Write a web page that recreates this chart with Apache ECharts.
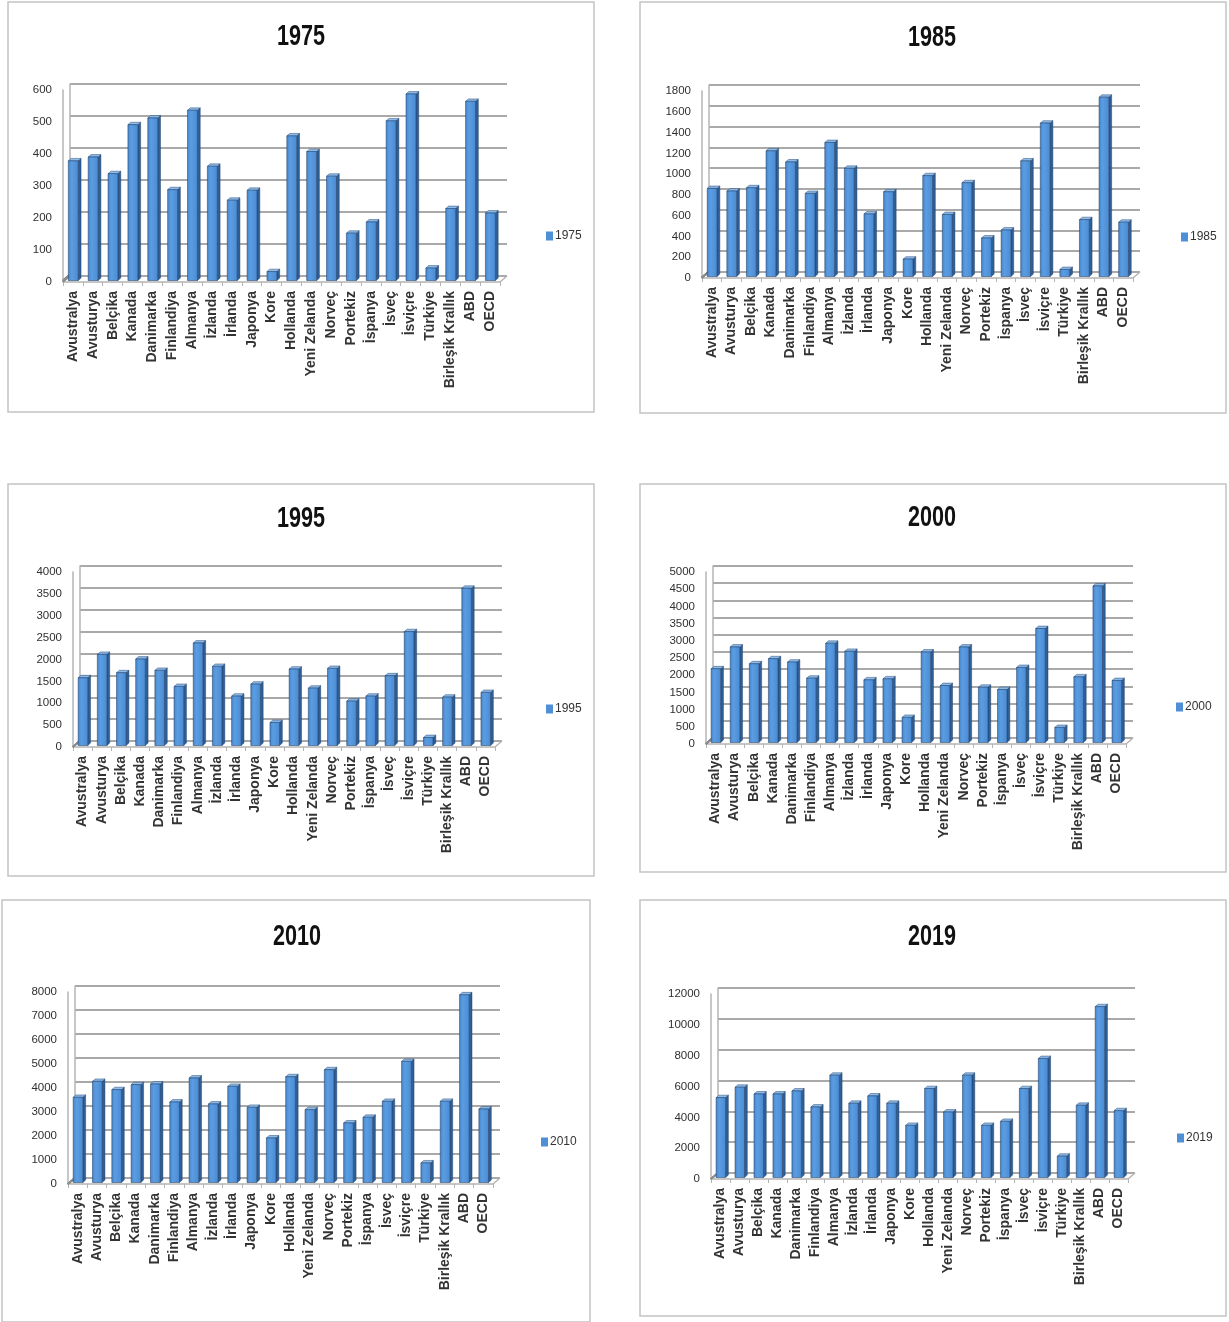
<!DOCTYPE html>
<html>
<head>
<meta charset="utf-8">
<script src="https://cdn.jsdelivr.net/npm/echarts@6/dist/echarts.min.js"></script>
<style>
  html, body { margin: 0; padding: 0; background: #ffffff; }
  #chart { width: 1229px; height: 1322px; }
</style>
</head>
<body>
<div id="chart"></div>
<script>
// Countries on the category axis (same for every year)
const categories = ['Avustralya', 'Avusturya', 'Belçika', 'Kanada', 'Danimarka', 'Finlandiya', 'Almanya',
  'İzlanda', 'İrlanda', 'Japonya', 'Kore', 'Hollanda', 'Yeni Zelanda', 'Norveç', 'Portekiz', 'İspanya',
  'İsveç', 'İsviçre', 'Türkiye', 'Birleşik Krallık', 'ABD', 'OECD'];

// Years shown, one chart each
const years = ['1975', '1985', '1995', '2000', '2010', '2019'];

// Values per year
const v1975 = [374, 386, 334, 487, 508, 284, 532, 357, 251, 282, 28, 452, 403, 326, 148, 183, 499, 583, 39, 225, 560, 211];
const v1985 = [848, 823, 855, 1210, 1103, 800, 1290, 1042, 603, 816, 168, 971, 597, 903, 371, 448, 1113, 1477, 68, 548, 1726, 523];
const v1995 = [1550, 2084, 1664, 1977, 1718, 1351, 2344, 1809, 1130, 1405, 527, 1748, 1313, 1763, 1015, 1130, 1595, 2603, 183, 1107, 3595, 1214];
const v2000 = [2144, 2778, 2290, 2437, 2339, 1871, 2885, 2651, 1823, 1852, 731, 2632, 1657, 2778, 1608, 1540, 2183, 3314, 439, 1910, 4552, 1803];
const v2010 = [3550, 4216, 3870, 4078, 4105, 3356, 4355, 3273, 4008, 3134, 1858, 4410, 3037, 4702, 2483, 2718, 3384, 5049, 818, 3384, 7822, 3065];
const v2019 = [5184, 5857, 5423, 5423, 5618, 4577, 6638, 4816, 5293, 4816, 3384, 5770, 4252, 6638, 3384, 3644, 5770, 7722, 1388, 4685, 11085, 4338];

// Value-axis ticks: top value and step for each year
const yMax = [600, 1800, 4000, 5000, 8000, 12000];
const yStep = [100, 200, 500, 500, 1000, 2000];

const seriesValues = [v1975, v1985, v1995, v2000, v2010, v2019];

// Page layout of each panel: frame box, back wall of the plot, title centre, legend spot
const layout = [
  { box: [8, 2, 586, 410],   wall: [70, 84, 507, 276],    title: [301, 37],  legend: [541, 225] },
  { box: [640, 2, 586, 411], wall: [709, 85, 1140, 272],  title: [932, 38],  legend: [1176, 226] },
  { box: [8, 484, 586, 392], wall: [80, 566, 502, 741],   title: [301, 519], legend: [541, 698] },
  { box: [640, 484, 586, 388], wall: [713, 566, 1133, 738], title: [932, 518], legend: [1171, 696] },
  { box: [2, 900, 588, 422], wall: [75, 986, 500, 1178],  title: [297, 937], legend: [536, 1131] },
  { box: [640, 900, 586, 416], wall: [718, 988, 1135, 1173], title: [932, 937], legend: [1172, 1127] }
];

// Perspective shift from the front plane to the back wall
const DX = 7, DY = 6;

const BAR_SIDE = '#2f5f97';
const BAR_TOP = '#8dbbea';
const BAR_EDGE = 'rgba(30,60,100,0.75)';
const GRID_COLOR = '#8c8c8c';
const WALL_COLOR = '#b4b4b4';

const grids = [], xAxes = [], yAxes = [], series = [], legends = [], graphics = [];

years.forEach(function (year, i) {
  const L = layout[i];
  const [x1, yTop, x2, y0] = L.wall;
  const w = x2 - x1, h = y0 - yTop;

  // back wall grid (gridlines + bars)
  grids.push({ left: x1, top: yTop, width: w, height: h });
  // front plane grid (axis labels)
  grids.push({ left: x1 - DX, top: yTop + DY, width: w, height: h });

  const back = 2 * i, front = 2 * i + 1;

  xAxes.push({
    type: 'category', gridIndex: back, data: categories,
    axisLine: { show: false }, axisTick: { show: false }, axisLabel: { show: false }
  });
  xAxes.push({
    type: 'category', gridIndex: front, data: categories,
    axisLine: { show: true, lineStyle: { color: WALL_COLOR, width: 1.5 } },
    axisTick: { show: true, length: 4, lineStyle: { color: WALL_COLOR } },
    axisLabel: {
      rotate: 90, margin: 9, interval: 0,
      fontFamily: 'Liberation Sans', fontWeight: 'bold', fontSize: 14, color: '#333333'
    }
  });

  yAxes.push({
    type: 'value', gridIndex: back, min: 0, max: yMax[i], interval: yStep[i],
    axisLine: { show: true, lineStyle: { color: WALL_COLOR, width: 1.5 } },
    axisTick: { show: false }, axisLabel: { show: false },
    splitLine: { show: true, lineStyle: { color: GRID_COLOR, width: 1.5 } }
  });
  yAxes.push({
    type: 'value', gridIndex: front, min: 0, max: yMax[i], interval: yStep[i],
    axisLine: { show: true, lineStyle: { color: WALL_COLOR, width: 1.5 } },
    axisTick: { show: false }, splitLine: { show: false },
    axisLabel: {
      margin: 11, fontFamily: 'Liberation Sans', fontSize: 11.5, color: '#303030',
      formatter: function (v) { return String(v); }
    }
  });

  // side wall diagonals at each tick, plus the right edge of the floor
  const ticks = [];
  for (let t = 0; t <= yMax[i]; t += yStep[i]) ticks.push(t);
  series.push({
    type: 'custom', xAxisIndex: back, yAxisIndex: back, silent: true, z: 1,
    data: ticks,
    renderItem: function (params, api) {
      const cs = params.coordSys;
      const y = api.coord([0, api.value(0)])[1];
      const children = [{
        type: 'line',
        shape: { x1: cs.x, y1: y, x2: cs.x - DX, y2: y + DY },
        style: { stroke: GRID_COLOR, lineWidth: 1.5 }
      }];
      if (api.value(0) === 0) {
        children.push({
          type: 'line',
          shape: { x1: cs.x + cs.width, y1: y, x2: cs.x + cs.width - DX, y2: y + DY },
          style: { stroke: WALL_COLOR, lineWidth: 1.5 }
        });
      }
      return { type: 'group', children: children };
    }
  });

  // 3D-looking columns
  series.push({
    name: year, type: 'custom', xAxisIndex: back, yAxisIndex: back, z: 3,
    itemStyle: { color: '#4f8fd6' },
    data: seriesValues[i].map(function (v, k) { return [k, v]; }),
    renderItem: function (params, api) {
      const top = api.coord([api.value(0), api.value(1)]);
      const base = api.coord([api.value(0), 0]);
      const band = api.size([1, 0])[0];
      const bw = band * 0.5;
      const fx = -DX * 0.75, fy = DY * 0.75;
      const ddx = DX * 0.4, ddy = DY * 0.4;
      const x = top[0] - bw / 2 + fx - ddx / 2;
      const y = top[1] + fy;
      const hh = base[1] - top[1];
      return {
        type: 'group',
        children: [
          {
            type: 'polygon',
            shape: { points: [[x + bw, y], [x + bw + ddx, y - ddy], [x + bw + ddx, y + hh - ddy], [x + bw, y + hh]] },
            style: { fill: BAR_SIDE, stroke: BAR_EDGE, lineWidth: 0.6 }
          },
          {
            type: 'polygon',
            shape: { points: [[x, y], [x + ddx, y - ddy], [x + bw + ddx, y - ddy], [x + bw, y]] },
            style: { fill: BAR_TOP, stroke: BAR_EDGE, lineWidth: 0.6 }
          },
          {
            type: 'rect',
            shape: { x: x, y: y, width: bw, height: hh },
            style: {
              fill: new echarts.graphic.LinearGradient(0, 0, 1, 0, [
                { offset: 0, color: '#4684c8' },
                { offset: 0.35, color: '#5b9de2' },
                { offset: 1, color: '#4a8ad2' }
              ]),
              stroke: BAR_EDGE, lineWidth: 0.7
            }
          }
        ]
      };
    }
  });

  legends.push({
    data: [year], left: L.legend[0], top: L.legend[1], orient: 'vertical',
    icon: 'rect', itemWidth: 7, itemHeight: 9, itemGap: 0,
    selectedMode: false,
    textStyle: { fontFamily: 'Liberation Sans', fontSize: 12, color: '#333333', padding: [0, 0, 0, -3] }
  });

  graphics.push({
    type: 'rect', silent: true, z: -10,
    shape: { x: L.box[0], y: L.box[1], width: L.box[2], height: L.box[3] },
    style: { fill: '#ffffff', stroke: '#c4c4c4', lineWidth: 1.5 }
  });
  // condensed bold heading
  graphics.push({
    type: 'text', silent: true,
    x: L.title[0], y: L.title[1], scaleX: 0.72, scaleY: 1,
    style: {
      text: year, align: 'center', verticalAlign: 'middle',
      font: 'bold 30px "Liberation Sans", sans-serif',
      fill: '#111111'
    }
  });
});

const chart = echarts.init(document.getElementById('chart'), null, { renderer: 'canvas' });
chart.setOption({
  backgroundColor: '#ffffff',
  animation: false,
  graphic: graphics,
  grid: grids,
  xAxis: xAxes,
  yAxis: yAxes,
  legend: legends,
  series: series
});
</script>
</body>
</html>
